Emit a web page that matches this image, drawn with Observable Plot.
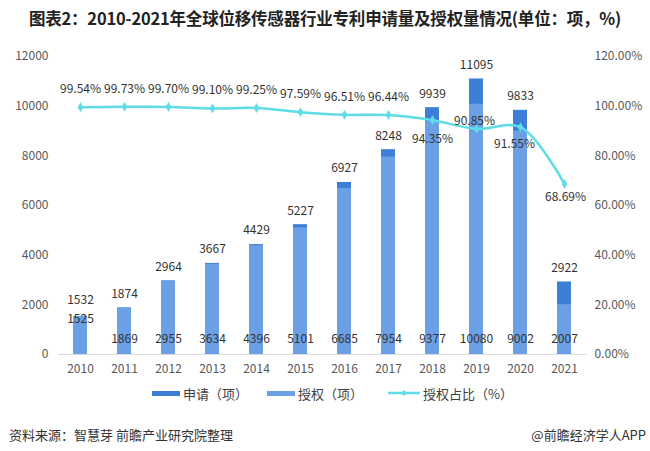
<!DOCTYPE html>
<html><head><meta charset="utf-8">
<script src="https://cdn.jsdelivr.net/npm/d3@7"></script>
<script src="https://cdn.jsdelivr.net/npm/@observablehq/plot@0.6"></script>
<style>
body{margin:0;background:#fff;font-family:"Noto Sans CJK SC","Noto Sans",sans-serif;width:650px;height:451px;position:relative;overflow:hidden}
#title{position:absolute;top:6px;left:0;width:650px;text-align:center;font-weight:bold;font-size:16.5px;color:#222;letter-spacing:-0.2px}
#chart{position:absolute;top:40px;left:0}
#legend{position:absolute;top:384px;left:0;width:650px;height:18px;font-size:13px;color:#404040}
.lg{position:absolute;top:0;display:flex;align-items:center;height:18px}
.sw{width:28px;height:5px;margin-right:3px}
#src{position:absolute;top:425px;left:9px;font-size:13px;color:#333}
#app{position:absolute;top:425px;right:4px;font-size:13px;color:#333}
</style></head>
<body>
<div id="title">图表2：2010-2021年全球位移传感器行业专利申请量及授权量情况(单位：项，%)</div>
<div id="chart"></div>
<div id="legend">
  <div class="lg" style="left:152px"><div class="sw" style="background:#3D7ED6"></div>申请（项）</div>
  <div class="lg" style="left:267px"><div class="sw" style="background:#6B9FE6"></div>授权（项）</div>
  <div class="lg" style="left:388px"><svg width="32" height="8" style="margin-right:3px"><line x1="0" y1="4" x2="32" y2="4" stroke="#5FDDE6" stroke-width="2.5"/><path d="M16 1 L19 4 L16 7 L13 4 Z" fill="#5FDDE6"/></svg>授权占比（%）</div>
</div>
<div id="src">资料来源：智慧芽 前瞻产业研究院整理</div>
<div id="app">@前瞻经济学人APP</div>
<script>
const years = [2010,2011,2012,2013,2014,2015,2016,2017,2018,2019,2020,2021];
const applied = [1532,1874,2964,3667,4429,5227,6927,8248,9939,11095,9833,2922];
const granted = [1525,1869,2955,3634,4396,5101,6685,7954,9377,10080,9002,2007];
const grantRate = [99.54,99.73,99.70,99.10,99.25,97.59,96.51,96.44,94.35,90.85,91.55,68.69];
const leftTicks = [0,2000,4000,6000,8000,10000,12000];

const data = years.map((y,i)=>({year:String(y), applied:applied[i], granted:granted[i], rate:grantRate[i]}));
const first = data.filter(d=>d.year==="2010");
const rest = data.filter(d=>d.year!=="2010");

// label placement for percentage labels (dx, dy in px)
const pctPlace = {"2018":[0,19],"2019":[-2,-8],"2020":[-6,17],"2021":[1,13]};
const pdx = d => (pctPlace[d.year]||[0,-18])[0];
const pdy = d => (pctPlace[d.year]||[0,-18])[1];

const lineColor = "#5FDDE6";
const font = '"Noto Sans CJK SC","Noto Sans",sans-serif';

const marks = [
  Plot.ruleY([0], {stroke:"#d9d9d9", strokeWidth:1}),
  Plot.barY(data, {x:"year", y:"applied", fill:"#3D7ED6"}),
  Plot.barY(data, {x:"year", y:"granted", fill:"#6B9FE6"}),
  Plot.axisY({anchor:"left", ticks:leftTicks, tickSize:0, tickPadding:10, fontSize:12, fill:"#595959", tickFormat:d=>String(d)}),
  Plot.axisY({anchor:"right", ticks:leftTicks, tickSize:0, tickPadding:7, fontSize:12, fill:"#595959", tickFormat:d=>(d/100).toFixed(2)+"%"}),
  Plot.axisX({tickSize:0, tickPadding:10, fontSize:12, fill:"#595959"}),
  Plot.text(rest, {x:"year", y:"applied", text:d=>String(d.applied), dy:-14, fontSize:12, fill:"#333"}),
  Plot.text(first, {x:"year", y:"applied", text:d=>String(d.applied), dy:-16, fontSize:12, fill:"#333"}),
  Plot.text(rest, {x:"year", y:0, text:d=>String(d.granted), dy:-15, fontSize:12, fill:"#333"}),
  Plot.text(first, {x:"year", y:"granted", text:d=>String(d.granted), dy:3, fontSize:12, fill:"#333"}),
  Plot.line(data, {x:"year", y:d=>d.rate*100, stroke:lineColor, strokeWidth:2.5, curve:"catmull-rom"}),
  Plot.dot(data, {x:"year", y:d=>d.rate*100, symbol:"diamond", r:3, fill:lineColor, stroke:null}),
  ...data.map(d=>Plot.text([d], {x:"year", y:v=>v.rate*100, text:v=>v.rate.toFixed(2)+"%", dx:pdx(d), dy:pdy(d), fontSize:12, fill:"#333"}))
];

const chart = Plot.plot({
  width:650, height:345,
  marginTop:16, marginBottom:31, marginLeft:58, marginRight:63,
  style:{fontFamily:font, background:"#fff", overflow:"visible"},
  x:{type:"band", domain:years.map(String), paddingInner:0.68, paddingOuter:0.34, label:null, axis:null},
  y:{domain:[0,12000], label:null, axis:null},
  marks
});
document.getElementById("chart").appendChild(chart);
</script>
</body></html>
